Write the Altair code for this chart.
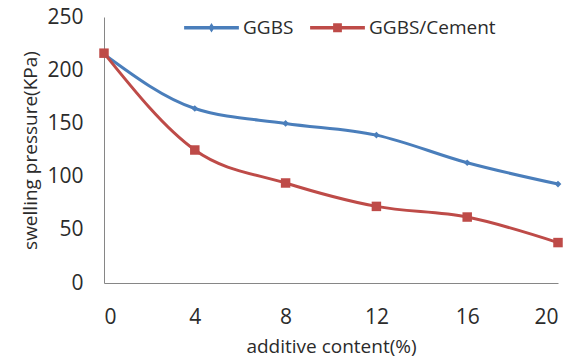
import altair as alt
import pandas as pd

content = [0, 4, 8, 12, 16, 20]
ggbs = [215, 164, 150, 139, 113, 93]
ggbs_cement = [216, 125, 94, 72, 62, 38]
series_names = ["GGBS", "GGBS/Cement"]
colors = ["#4A7EBB", "#BE4B48"]

rows = []
for name, vals in zip(series_names, [ggbs, ggbs_cement]):
    for c, v in zip(content, vals):
        rows.append({"content": c, "pressure": v, "series": name, "series_leg": name})
df = pd.DataFrame(rows)

font = "Open Sans"
tc = "#2b2b2b"
x = alt.X("content:Q", scale=alt.Scale(domain=[0, 20], nice=False),
          axis=alt.Axis(values=content, title="additive content(%)", grid=False,
                        ticks=False, labelPadding=23, titlePadding=10,
                        domainColor="#868686", labelFontSize=21, titleFontSize=19,
                        labelFont=font, titleFont=font, titleFontWeight="normal",
                        labelColor=tc, titleColor=tc))
y = alt.Y("pressure:Q", scale=alt.Scale(domain=[0, 250], nice=False),
          axis=alt.Axis(values=[0, 50, 100, 150, 200, 250], title="swelling pressure(KPa)",
                        grid=False, ticks=False, labelPadding=21, titlePadding=6,
                        domainColor="#868686", labelFontSize=21, titleFontSize=19,
                        labelFont=font, titleFont=font, titleFontWeight="normal",
                        labelColor=tc, titleColor=tc))
color = alt.Color("series:N", scale=alt.Scale(domain=series_names, range=colors), legend=None)

base = alt.Chart(df)
lines = base.mark_line(interpolate="monotone", strokeWidth=3).encode(x=x, y=y, color=color, detail="series:N")
points = base.mark_point(filled=True, opacity=1).encode(
    x=x, y=y, color=color,
    shape=alt.Shape("series:N", scale=alt.Scale(domain=series_names, range=["diamond", "square"]), legend=None),
    size=alt.Size("series:N", scale=alt.Scale(domain=series_names, range=[45, 90]), legend=None),
)

leg_paths = [
    "M-1,-0.065H1V0.065H-1Z M0,-0.17L0.11,0L0,0.17L-0.11,0Z",
    "M-1,-0.065H1V0.065H-1Z M-0.16,-0.16H0.16V0.16H-0.16Z",
]
leg = alt.Legend(title=None, orient="none", legendX=80, legendY=-17,
                 direction="horizontal", symbolSize=3000,
                 symbolOpacity=1, symbolStrokeWidth=0,
                 labelFontSize=19, labelFont=font, labelColor=tc,
                 columnPadding=16, labelOffset=4)
legend_layer = base.mark_point(filled=True, opacity=0).encode(
    x=x, y=y,
    shape=alt.Shape("series_leg:N", scale=alt.Scale(domain=series_names, range=leg_paths), legend=leg),
    color=alt.Color("series_leg:N", scale=alt.Scale(domain=series_names, range=colors), legend=leg),
)

chart = alt.layer(lines, points, legend_layer).resolve_scale(
    shape="independent", size="independent", color="independent"
).properties(
    width=454, height=266,
    padding={"left": 104, "top": 17, "right": 18, "bottom": 79},
    autosize=alt.AutoSizeParams(type="none"),
).configure_view(stroke=None)

chart.save("out.html", embed_options={"renderer": "svg", "actions": False})
